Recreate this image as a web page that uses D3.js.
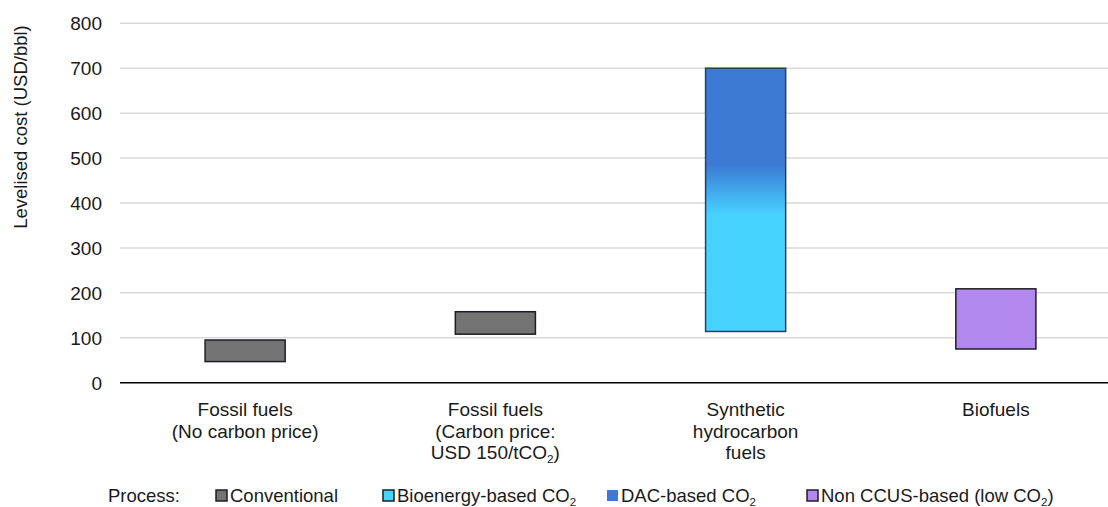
<!DOCTYPE html>
<head>
    <meta charset="utf-8">
    <title>Levelised cost of fuels</title>
    <style>
        body { margin: 0; background: #fff; }
        text { font-family: "Liberation Sans", Arial, sans-serif; fill: #1a1a1a; }
    </style>
</head>
<body>
    <svg width="1108" height="507"></svg>

    <script src="https://d3js.org/d3.v7.min.js"></script>
    <script>

        // categories (each label line is one entry)
        var categories = ["fossil", "fossilCarbon", "synthetic", "biofuels"];
        var categoryLabels = [
            ["Fossil fuels", "(No carbon price)"],
            ["Fossil fuels", "(Carbon price:", "USD 150/tCO|2|)"],
            ["Synthetic", "hydrocarbon", "fuels"],
            ["Biofuels"]
        ];

        // cost ranges, USD/bbl [low, high]
        var conventional = [[47, 95], [108, 158], null, null];
        var bioenergyCO2 = [null, null, [114, 485], null];
        var dacCO2 = [null, null, [373, 700], null];
        var nonCCUS = [null, null, null, [75, 209]];

        var yTicks = [0, 100, 200, 300, 400, 500, 600, 700, 800];

        var legendItems = [
            { label: "Conventional", color: "#737373", border: true },
            { label: "Bioenergy-based CO|2|", color: "#47d3ff", border: true },
            { label: "DAC-based CO|2|", color: "#3c7ad4", border: false },
            { label: "Non CCUS-based (low CO|2|)", color: "#b388ee", border: true }
        ];

        var svg = d3.select("svg"),
            width = +svg.attr("width");

        var x = d3.scaleBand().domain(categories).range([120, 1121])
            .paddingInner(0.68).paddingOuter(0.34);
        var y = d3.scaleLinear().domain([0, 800]).range([382.7, 23.3]);

        // writes "CO|2|" style strings with a subscript
        function richText(sel, str, size) {
            str.split("|").forEach(function (part, i) {
                if (!part) return;
                var t = sel.append("tspan").text(part);
                if (i % 2 === 1) {
                    t.style("font-size", (size * 0.62) + "px").attr("dy", 4);
                } else if (i > 0) {
                    t.attr("dy", -4);
                }
            });
        }

        // gridlines + tick labels
        svg.append("g").selectAll("line")
            .data(yTicks.filter(function (d) { return d > 0; }))
            .enter().append("line")
            .attr("x1", 120).attr("x2", width)
            .attr("y1", function (d) { return y(d); })
            .attr("y2", function (d) { return y(d); })
            .attr("stroke", "#d9d9d9").attr("stroke-width", 1.5);

        svg.append("g").selectAll("text")
            .data(yTicks)
            .enter().append("text")
            .attr("x", 102)
            .attr("y", function (d) { return y(d); })
            .attr("dy", "0.36em")
            .attr("text-anchor", "end")
            .style("font-size", "19px")
            .text(function (d) { return d; });

        svg.append("text")
            .attr("transform", "translate(27,127) rotate(-90)")
            .attr("text-anchor", "middle")
            .style("font-size", "18.5px")
            .text("Levelised cost (USD/bbl)");

        // gradient for the synthetic fuel bar (bioenergy -> DAC)
        var lo = bioenergyCO2[2][0], hi = dacCO2[2][1];
        var grad = svg.append("defs").append("linearGradient")
            .attr("id", "synGrad")
            .attr("x1", 0).attr("x2", 0).attr("y1", 1).attr("y2", 0);
        grad.append("stop").attr("offset", (dacCO2[2][0] - lo) / (hi - lo)).attr("stop-color", "#47d3ff");
        grad.append("stop").attr("offset", (bioenergyCO2[2][1] - lo) / (hi - lo)).attr("stop-color", "#3c7ad4");

        function drawBars(values, fill, stroke) {
            svg.append("g").selectAll("rect")
                .data(values.map(function (v, i) { return { cat: categories[i], v: v }; })
                    .filter(function (d) { return d.v; }))
                .enter().append("rect")
                .attr("x", function (d) { return x(d.cat); })
                .attr("width", x.bandwidth())
                .attr("y", function (d) { return y(d.v[1]); })
                .attr("height", function (d) { return y(d.v[0]) - y(d.v[1]); })
                .attr("fill", fill)
                .attr("stroke", stroke).attr("stroke-width", 1.5);
        }

        drawBars(conventional, "#737373", "#1e1e24");
        drawBars(nonCCUS, "#b388ee", "#1e1e24");
        // one bar spanning both CO2 sources
        drawBars(categories.map(function (c, i) {
            return bioenergyCO2[i] && dacCO2[i] ? [bioenergyCO2[i][0], dacCO2[i][1]] : null;
        }), "url(#synGrad)", "#2a3f5a");

        // x axis line
        svg.append("line")
            .attr("x1", 120).attr("x2", width)
            .attr("y1", y(0)).attr("y2", y(0))
            .attr("stroke", "#000").attr("stroke-width", 1.5);

        // category labels
        categoryLabels.forEach(function (lines, i) {
            var t = svg.append("text")
                .attr("text-anchor", "middle")
                .style("font-size", "19px");
            lines.forEach(function (line, j) {
                var row = t.append("tspan")
                    .attr("x", x(categories[i]) + x.bandwidth() / 2)
                    .attr("y", 416 + j * 21.5);
                richText(row, line, 19);
            });
        });

        // legend
        var legend = svg.append("g");
        legend.append("text").attr("x", 108).attr("y", 502)
            .style("font-size", "18.5px").text("Process:");

        var legendX = [216, 383, 607, 807];
        legendItems.forEach(function (d, i) {
            legend.append("rect")
                .attr("x", legendX[i]).attr("y", 490)
                .attr("width", 11).attr("height", 11)
                .attr("fill", d.color)
                .attr("stroke", d.border ? "#1e1e24" : "none")
                .attr("stroke-width", 1.5);
            var t = legend.append("text")
                .attr("x", legendX[i] + 14).attr("y", 502)
                .style("font-size", "18.5px");
            richText(t, d.label, 18.5);
        });

    </script>
</body>
